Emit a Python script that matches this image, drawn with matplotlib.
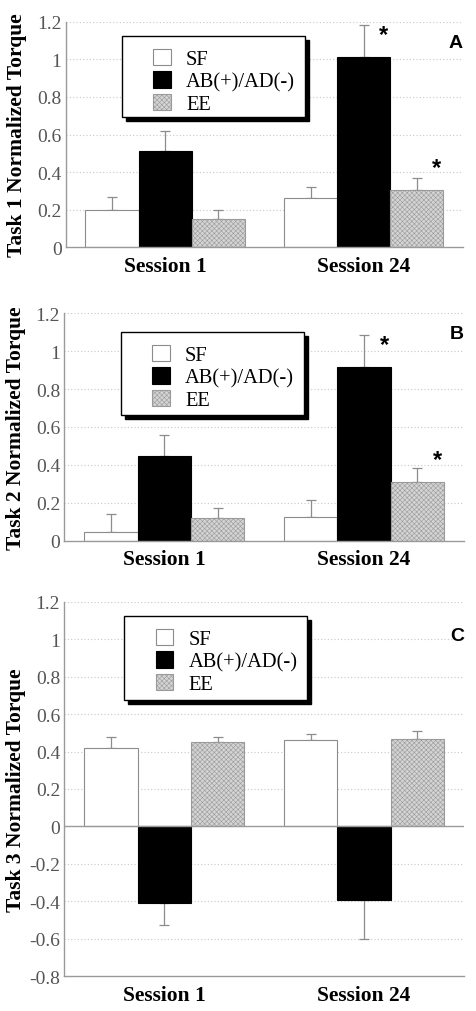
import matplotlib
matplotlib.use("Agg")
import matplotlib.pyplot as plt
from matplotlib.patches import Rectangle, Patch
import numpy as np

# data
sessions = ["Session 1", "Session 24"]
series = ["SF", "AB(+)/AD(-)", "EE"]

task1_mean = [[0.20, 0.26], [0.51, 1.01], [0.15, 0.305]]
task1_err = [[0.07, 0.06], [0.107, 0.17], [0.048, 0.063]]
task2_mean = [[0.044, 0.127], [0.447, 0.915], [0.12, 0.31]]
task2_err = [[0.096, 0.088], [0.112, 0.172], [0.052, 0.073]]
task3_mean = [[0.418, 0.463], [-0.406, -0.391], [0.45, 0.466]]
task3_err = [[0.062, 0.03], [0.119, 0.209], [0.03, 0.044]]

# (series index, session index) with significance star
task1_stars = [(1, 1), (2, 1)]
task2_stars = [(1, 1), (2, 1)]
task3_stars = []

panels = [
    ("A", "Task 1 Normalized Torque", task1_mean, task1_err, task1_stars, (0, 1.2)),
    ("B", "Task 2 Normalized Torque", task2_mean, task2_err, task2_stars, (0, 1.2)),
    ("C", "Task 3 Normalized Torque", task3_mean, task3_err, task3_stars, (-0.8, 1.2)),
]

W, H = 477, 1012
# axes boxes in pixels: left, top, right, bottom
boxes = [(65.7, 22.7, 463, 248.3), (64.3, 314.3, 464, 541.7), (64.3, 602.7, 464, 977.3)]
# legend boxes in pixels: left, top, right, bottom
leg_boxes = [(121.7, 37.3, 305, 118.3), (120.7, 333.3, 304, 416), (124, 617.3, 307.3, 700.7)]

serif = ["Liberation Serif", "DejaVu Serif"]
sans = ["Liberation Sans", "DejaVu Sans"]
plt.rcParams["hatch.linewidth"] = 0.4
plt.rcParams["hatch.color"] = "#8a8a8a"

fig = plt.figure(figsize=(W / 100, H / 100), dpi=100)

face = ["white", "black", "#d4d4d4"]
edge = ["#8c8c8c", "black", "#9a9a9a"]
hatch = [None, None, "xxxxxxx"]
bw = 0.267
x = np.arange(len(sessions))

for (letter, ylab, mean, err, stars, ylim), (l, t, r, b), lb in zip(panels, boxes, leg_boxes):
    ax = fig.add_axes([l / W, 1 - b / H, (r - l) / W, (b - t) / H])
    ax.set_xlim(-0.5, 1.5)
    ax.set_ylim(*ylim)
    ticks = np.round(np.arange(ylim[0], ylim[1] + 0.01, 0.2), 1) + 0.0
    for yv in ticks:
        if abs(yv) > 1e-9 and yv != ylim[0]:
            ax.axhline(yv, color="#c8c8c8", lw=0.8, ls=(0, (1, 2)), zorder=0)
    if ylim[0] < 0:
        ax.axhline(0, color="#9a9a9a", lw=1, zorder=3)

    handles = []
    for i, name in enumerate(series):
        pos = x + (i - 1) * bw
        m = np.array(mean[i])
        e = np.array(err[i])
        ax.bar(pos, m, bw, color=face[i], edgecolor=edge[i], linewidth=0.8,
               hatch=hatch[i], zorder=2)
        lower = np.where(m < 0, e, 0)
        upper = np.where(m >= 0, e, 0)
        ax.errorbar(pos, m, yerr=[lower, upper], fmt="none", ecolor="#8c8c8c",
                    elinewidth=0.9, capsize=3.5, capthick=0.9, zorder=1)
        handles.append(Patch(facecolor=face[i], edgecolor=edge[i], hatch=hatch[i],
                             linewidth=0.8, label=name))

    for si, gi in stars:
        xs = x[gi] + (si - 1) * bw + 0.1
        ys = mean[si][gi] + 0.12
        ax.text(xs, ys, "*", fontsize=17, fontweight="bold", family=sans,
                ha="center", va="center")

    ax.text(0.982, 0.91, letter, transform=ax.transAxes, fontsize=14,
            fontweight="bold", family=sans, ha="center", va="center")

    ax.set_yticks(ticks)
    ax.set_yticklabels([("%g" % (v + 0.0)) if abs(v) > 1e-9 else "0" for v in ticks],
                       family=serif, fontsize=14, color="#555555")
    ax.set_xticks(x)
    ax.set_xticklabels(sessions, family=serif, fontsize=15.5, fontweight="bold")
    ax.tick_params(axis="both", length=0)
    ax.tick_params(axis="y", pad=3)
    ax.tick_params(axis="x", pad=6)
    ax.set_ylabel(ylab, family=serif, fontsize=15.5, fontweight="bold")
    ax.yaxis.set_label_coords(-0.097, 0.5)
    for s in ["top", "right"]:
        ax.spines[s].set_visible(False)
    for s in ["left", "bottom"]:
        ax.spines[s].set_color("#9a9a9a")
        ax.spines[s].set_linewidth(1)

    # legend frame with hard shadow
    ll, lt, lr, lbm = lb
    fx, fy, fw, fh = ll / W, 1 - lbm / H, (lr - ll) / W, (lbm - lt) / H
    fig.patches.append(Rectangle((fx + 4 / W, fy - 4 / H), fw, fh, transform=fig.transFigure,
                                 facecolor="black", edgecolor="black", zorder=5))
    fig.patches.append(Rectangle((fx, fy), fw, fh, transform=fig.transFigure,
                                 facecolor="white", edgecolor="black", lw=1, zorder=6))
    leg = fig.legend(handles=handles, loc="upper left",
                     bbox_to_anchor=((ll + 13) / W, 1 - (lt - 6) / H),
                     frameon=False, prop={"family": serif, "size": 14.8},
                     handlelength=0.85, handleheight=0.85, handletextpad=0.75,
                     labelspacing=0.1, borderpad=0.4)
    leg.set_zorder(7)

fig.savefig("out.png", dpi=100)
